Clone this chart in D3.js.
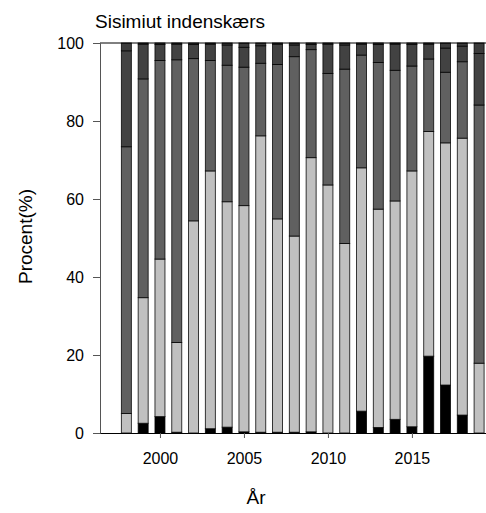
<!DOCTYPE html>
<html>
<head>
<meta charset="utf-8">
<script src="https://cdn.jsdelivr.net/npm/d3@7"></script>
<style>
  html, body { margin: 0; padding: 0; background: #fff; }
  svg { display: block; font-family: "Liberation Sans", Arial, sans-serif; }
</style>
</head>
<body>
<svg id="chart" width="486" height="513"></svg>
<script>
// Years sampled
const years = [1998, 1999, 2000, 2001, 2002, 2003, 2004, 2005, 2006, 2007, 2008,
               2009, 2010, 2011, 2012, 2013, 2014, 2015, 2016, 2017, 2018, 2019];

// Share (%) of each category per year, stacked bottom to top
const kategori1 = [0, 2.5, 4.2, 0.2, 0, 1.1, 1.5, 0.3, 0.2, 0.2, 0.2,
                   0.3, 0, 0, 5.6, 1.4, 3.5, 1.6, 19.7, 12.3, 4.6, 0];
const kategori2 = [5.0, 32.2, 40.4, 23.0, 54.4, 66.1, 57.8, 58.0, 76.0, 54.7, 50.3,
                   70.3, 63.6, 48.6, 62.4, 56.0, 56.0, 65.6, 57.6, 62.1, 71.0, 17.9];
const kategori3 = [68.4, 56.1, 50.9, 72.5, 41.6, 28.3, 35.0, 35.5, 18.6, 39.6, 46.0,
                   27.7, 28.6, 44.7, 28.9, 37.6, 33.5, 26.9, 18.6, 18.1, 19.6, 66.2];
const kategori4 = [24.6, 8.9, 4.1, 4.0, 3.6, 4.2, 5.2, 5.1, 4.5, 5.2, 3.0,
                   1.3, 7.5, 6.2, 2.8, 4.6, 6.7, 5.5, 3.8, 6.2, 4.0, 13.2];
const kategori5 = [2.0, 0.3, 0.4, 0.3, 0.4, 0.3, 0.5, 1.1, 0.7, 0.3, 0.5,
                   0.4, 0.3, 0.5, 0.3, 0.4, 0.3, 0.4, 0.3, 1.3, 0.8, 2.7];

const seriesKeys = ["kategori1", "kategori2", "kategori3", "kategori4", "kategori5"];
const seriesValues = [kategori1, kategori2, kategori3, kategori4, kategori5];
const seriesColors = ["#000000", "#c0c0c0", "#606060", "#424242", "#3c3c3c"];

const yTicks = [0, 20, 40, 60, 80, 100];
const xTicks = [2000, 2005, 2010, 2015];

const title = "Sisimiut indenskærs";
const yTitle = "Procent(%)";
const xTitle = "År";

// Table for the stack layout
const rows = years.map((yr, i) => {
  const r = { year: yr };
  seriesKeys.forEach((k, j) => { r[k] = seriesValues[j][i]; });
  return r;
});

const svg = d3.select("#chart");
const margin = { left: 100, top: 43, bottom: 80 };
const plotRight = 488;
const plotBottom = 433;

const x = d3.scaleLinear().domain([1996.43, 2019.53]).range([margin.left, plotRight]);
const y = d3.scaleLinear().domain([0, 100]).range([plotBottom, margin.top]);
const barW = 10;

const stack = d3.stack().keys(seriesKeys);
const stacked = stack(rows);

// Bars
const layers = svg.append("g")
  .selectAll("g")
  .data(stacked)
  .join("g")
  .attr("fill", (d, i) => seriesColors[i]);

layers.selectAll("rect")
  .data(d => d)
  .join("rect")
  .attr("x", d => x(d.data.year) - barW / 2)
  .attr("width", barW)
  .attr("y", d => y(d[1]))
  .attr("height", d => Math.max(0, y(d[0]) - y(d[1])))
  .attr("stroke", "#000")
  .attr("stroke-width", 0.9)
  .attr("stroke-opacity", 0.85);

// Frame line along the top
svg.append("line")
  .attr("x1", margin.left).attr("x2", plotRight)
  .attr("y1", y(100)).attr("y2", y(100))
  .attr("stroke", "#000").attr("stroke-width", 1);

// Left axis
const yAxis = svg.append("g")
  .attr("transform", `translate(${margin.left},0)`)
  .call(d3.axisLeft(y).tickValues(yTicks).tickSize(7).tickPadding(9));
yAxis.select(".domain").attr("stroke", "#555");
yAxis.selectAll(".tick line").attr("stroke", "#555");
yAxis.selectAll("text")
  .attr("font-size", 16)
  .attr("font-family", "Liberation Sans, Arial, sans-serif")
  .attr("fill", "#000");

// Bottom axis
const xAxis = svg.append("g")
  .attr("transform", `translate(0,${plotBottom})`)
  .call(d3.axisBottom(x).tickValues(xTicks).tickFormat(d3.format("d")).tickSize(5).tickPadding(15).tickSizeOuter(0));
xAxis.select(".domain").attr("stroke", "#000");
xAxis.selectAll(".tick line").attr("stroke", "#555");
xAxis.selectAll("text")
  .attr("font-size", 16)
  .attr("font-family", "Liberation Sans, Arial, sans-serif")
  .attr("fill", "#000");

// Titles
svg.append("text")
  .attr("x", 95).attr("y", 28)
  .attr("font-size", 19)
  .attr("fill", "#000")
  .text(title);

svg.append("text")
  .attr("transform", `translate(32,${236.5}) rotate(-90)`)
  .attr("text-anchor", "middle")
  .attr("font-size", 19)
  .attr("fill", "#000")
  .text(yTitle);

svg.append("text")
  .attr("x", 256).attr("y", 504)
  .attr("text-anchor", "middle")
  .attr("font-size", 19)
  .attr("fill", "#000")
  .text(xTitle);
</script>
</body>
</html>
